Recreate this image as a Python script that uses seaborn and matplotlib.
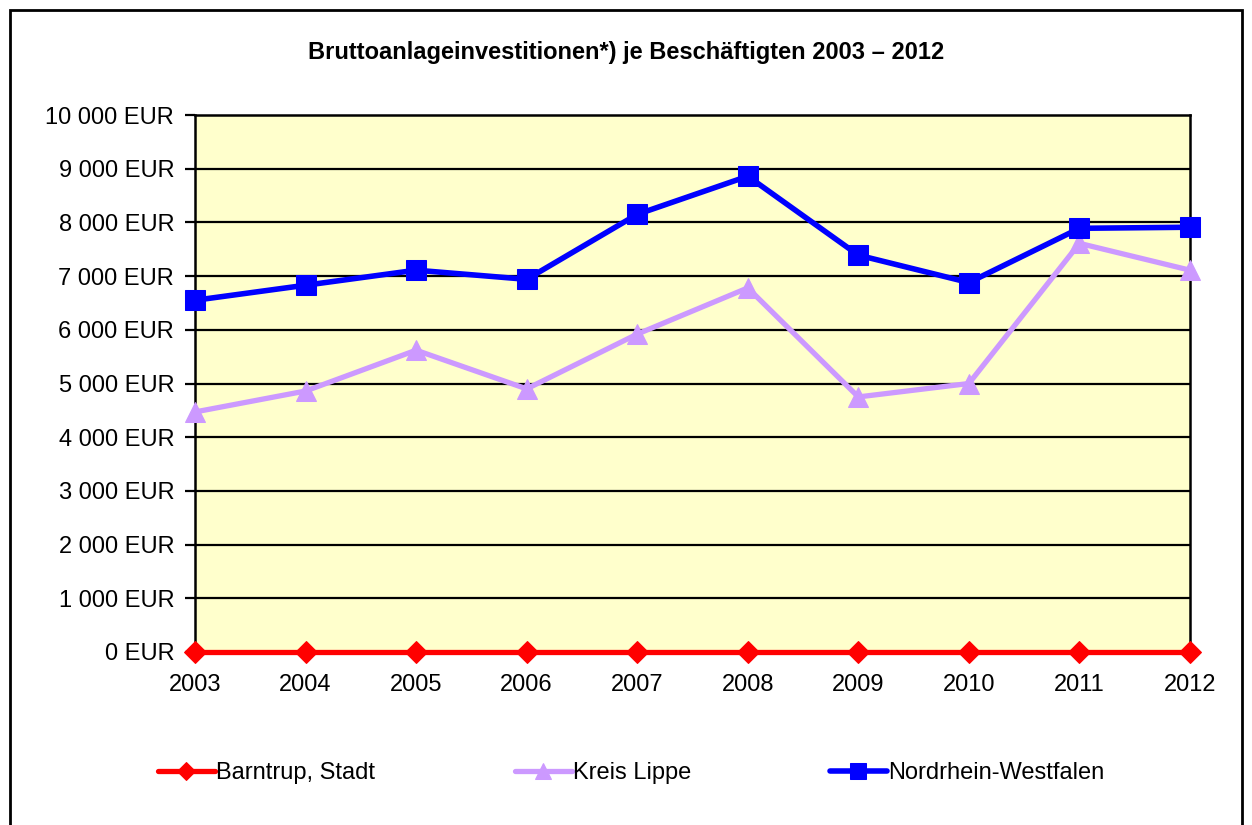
import matplotlib
matplotlib.use("Agg")
import matplotlib.pyplot as plt
import matplotlib.patches as mpatches
import pandas as pd
import seaborn as sns

YEARS = [2003, 2004, 2005, 2006, 2007, 2008, 2009, 2010, 2011, 2012]
BARNTRUP = [0, 0, 0, 0, 0, 0, 0, 0, 0, 0]
KREIS_LIPPE = [4470, 4860, 5620, 4900, 5920, 6780, 4750, 5000, 7610, 7110]
NRW = [6550, 6830, 7110, 6940, 8150, 8860, 7390, 6880, 7890, 7910]
SERIES_NAMES = ["Barntrup, Stadt", "Kreis Lippe", "Nordrhein-Westfalen"]
Y_TICKS = [0, 1000, 2000, 3000, 4000, 5000, 6000, 7000, 8000, 9000, 10000]
TITLE = "Bruttoanlageinvestitionen*) je Beschäftigten 2003 \u2013 2012"

sns.set_style("white")
plt.rcParams["font.family"] = ["Liberation Sans", "DejaVu Sans"]
plt.rcParams["text.color"] = "black"
plt.rcParams["xtick.color"] = "black"
plt.rcParams["ytick.color"] = "black"

df = pd.DataFrame({
    "year": YEARS * 3,
    "value": BARNTRUP + KREIS_LIPPE + NRW,
    "series": [SERIES_NAMES[0]] * 10 + [SERIES_NAMES[1]] * 10 + [SERIES_NAMES[2]] * 10,
})

fig = plt.figure(figsize=(12.52, 8.25), dpi=100)
ax = fig.add_axes([195 / 1252, 1 - 652 / 825, (1190 - 195) / 1252, (652 - 115) / 825])
ax.set_facecolor("#FFFFCC")

# gridlines first so series sit on top
for t in Y_TICKS[1:-1]:
    ax.axhline(t, color="black", lw=1.6, zorder=1)

styles = {
    SERIES_NAMES[0]: dict(color="#FF0000", marker="D", ms=11, lw=3.8),
    SERIES_NAMES[1]: dict(color="#CC99FF", marker="^", ms=14, lw=3.8),
    SERIES_NAMES[2]: dict(color="#0000FF", marker="s", ms=14, lw=4.0),
}
for name in SERIES_NAMES:
    st = styles[name]
    sns.lineplot(data=df[df["series"] == name], x="year", y="value", ax=ax,
                 color=st["color"], marker=st["marker"], markersize=st["ms"],
                 markeredgecolor=st["color"], linewidth=st["lw"], label=name,
                 clip_on=False, zorder=3)

ax.set_xlim(2003, 2012)
ax.set_ylim(0, 10000)
ax.set_xticks(YEARS)
ax.set_xticklabels([str(y) for y in YEARS], fontsize=17)
ax.set_yticks(Y_TICKS)
ax.set_yticklabels([f"{v:,}".replace(",", " ") + " EUR" for v in Y_TICKS], fontsize=17)
ax.tick_params(axis="y", direction="out", length=7, width=1.6, left=True, pad=8)
ax.tick_params(axis="x", length=0, pad=16)
ax.set_xlabel("")
ax.set_ylabel("")
for s in ax.spines.values():
    s.set_color("black")
    s.set_linewidth(1.8)

fig.text(0.5, 1 - 53 / 825, TITLE, ha="center", va="center",
         fontsize=17, fontweight="bold")

# one legend per entry, placed like the original
handles, labels = ax.get_legend_handles_labels()
ax.get_legend().remove()
legend_x = [158, 515, 830]
for h, l, x in zip(handles, labels, legend_x):
    fig.legend([h], [l], loc="center left", bbox_to_anchor=(x / 1252, 1 - 773 / 825),
               frameon=False, fontsize=17, handlelength=2.4, handletextpad=0.05,
               borderpad=0, borderaxespad=0, markerscale=0.85)

frame = mpatches.Rectangle((10 / 1252, -0.02), (1242 - 10) / 1252, 1.02 - 10 / 825,
                           transform=fig.transFigure, fill=False, edgecolor="black",
                           lw=2, zorder=10)
fig.patches.append(frame)

fig.savefig("out.png", dpi=100)
